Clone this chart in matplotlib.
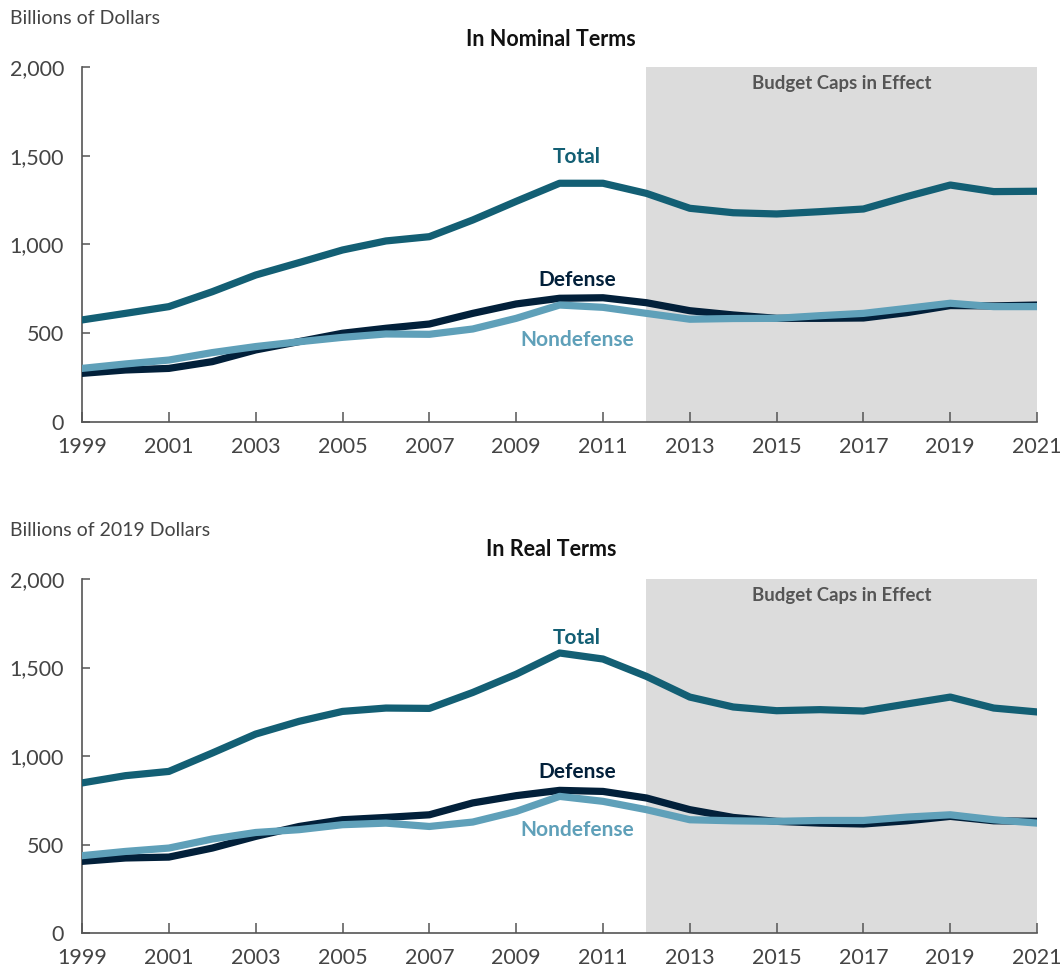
import matplotlib
matplotlib.use("Agg")
import matplotlib.pyplot as plt

plt.rcParams['font.family'] = ['Lato', 'DejaVu Sans']

# Data, billions of dollars
years = list(range(1999, 2022))

nominal_total = [575, 612, 650, 734, 828, 898, 969, 1020, 1044, 1138, 1243,
                 1345, 1345, 1288, 1204, 1179, 1172, 1185, 1200, 1270, 1335, 1298, 1300]
nominal_defense = [274, 293, 302, 340, 406, 453, 500, 528, 552, 612, 665,
                   697, 700, 672, 627, 603, 584, 584, 586, 616, 656, 654, 659]
nominal_nondefense = [302, 327, 349, 391, 425, 452, 477, 496, 494, 524, 584,
                      659, 646, 612, 579, 583, 584, 599, 612, 640, 669, 650, 650]

real_total = [848, 889, 913, 1017, 1124, 1196, 1252, 1271, 1269, 1359, 1462,
              1582, 1548, 1450, 1333, 1277, 1256, 1262, 1254, 1294, 1333, 1271, 1249]
real_defense = [405, 424, 429, 480, 546, 602, 640, 653, 668, 735, 776,
                806, 800, 763, 697, 653, 631, 621, 616, 634, 659, 634, 631]
real_nondefense = [437, 461, 480, 531, 568, 584, 612, 621, 602, 627, 687,
                   772, 744, 697, 640, 634, 631, 636, 636, 655, 668, 640, 621]

caps_start, caps_end = 2012, 2021

C_TOTAL = '#135f74'
C_DEF = '#02203a'
C_NON = '#5fa0b9'
C_AXIS = '#555555'
C_TEXT = '#444444'

fig = plt.figure(figsize=(10.6, 9.71), dpi=100)
ax_top = fig.add_axes([0.0774, 0.5654, 0.901, 0.3656])
ax_bot = fig.add_axes([0.0774, 0.0391, 0.901, 0.3646])


def draw_panel(ax, total, defense, nondefense, title, unit, label_y, title_y, unit_y):
    ax.axvspan(caps_start, caps_end, color='#dcdcdc', lw=0, zorder=0)
    ax.plot(years, defense, color=C_DEF, lw=5.2, solid_joinstyle='round', zorder=3)
    ax.plot(years, nondefense, color=C_NON, lw=5.2, solid_joinstyle='round', zorder=4)
    ax.plot(years, total, color=C_TOTAL, lw=5.2, solid_joinstyle='round', zorder=5)

    ax.set_xlim(1999, 2021)
    ax.set_ylim(0, 2000)
    ax.set_xticks(range(1999, 2022, 2))
    ax.set_yticks([0, 500, 1000, 1500, 2000])
    ax.set_yticklabels(['0', '500', '1,000', '1,500', '2,000'])
    for side in ['top', 'right']:
        ax.spines[side].set_visible(False)
    for side in ['left', 'bottom']:
        ax.spines[side].set_color(C_AXIS)
        ax.spines[side].set_linewidth(1.2)
    ax.tick_params(axis='both', direction='in', color=C_AXIS, width=1.1,
                   labelsize=15.5, labelcolor=C_TEXT)
    ax.tick_params(axis='x', length=7, pad=11)
    ax.tick_params(axis='y', length=6, pad=13)
    ax.set_facecolor('none')

    ax.text((caps_start + caps_end) / 2, 1905, 'Budget Caps in Effect',
            ha='center', va='center', fontsize=13.4, fontweight='bold', color='#555555')

    x_lab = 2010.4
    ax.text(x_lab, label_y[0], 'Total', ha='center', va='center', fontsize=15,
            fontweight='bold', color=C_TOTAL, zorder=6)
    ax.text(x_lab, label_y[1], 'Defense', ha='center', va='center', fontsize=15,
            fontweight='bold', color=C_DEF, zorder=6)
    ax.text(x_lab, label_y[2], 'Nondefense', ha='center', va='center', fontsize=15,
            fontweight='bold', color=C_NON, zorder=6)

    fig.text(551 / 1060, 1 - title_y / 971, title, ha='center', va='center',
             fontsize=15.5, fontweight='bold', color='#111111')
    fig.text(10 / 1060, 1 - unit_y / 971, unit, ha='left', va='center',
             fontsize=14, color=C_TEXT)


draw_panel(ax_top, nominal_total, nominal_defense, nominal_nondefense,
           'In Nominal Terms', 'Billions of Dollars',
           (1493, 800, 462), 39, 19)
draw_panel(ax_bot, real_total, real_defense, real_nondefense,
           'In Real Terms', 'Billions of 2019 Dollars',
           (1668, 911, 584), 550, 531)

fig.savefig('out.png', dpi=100)
